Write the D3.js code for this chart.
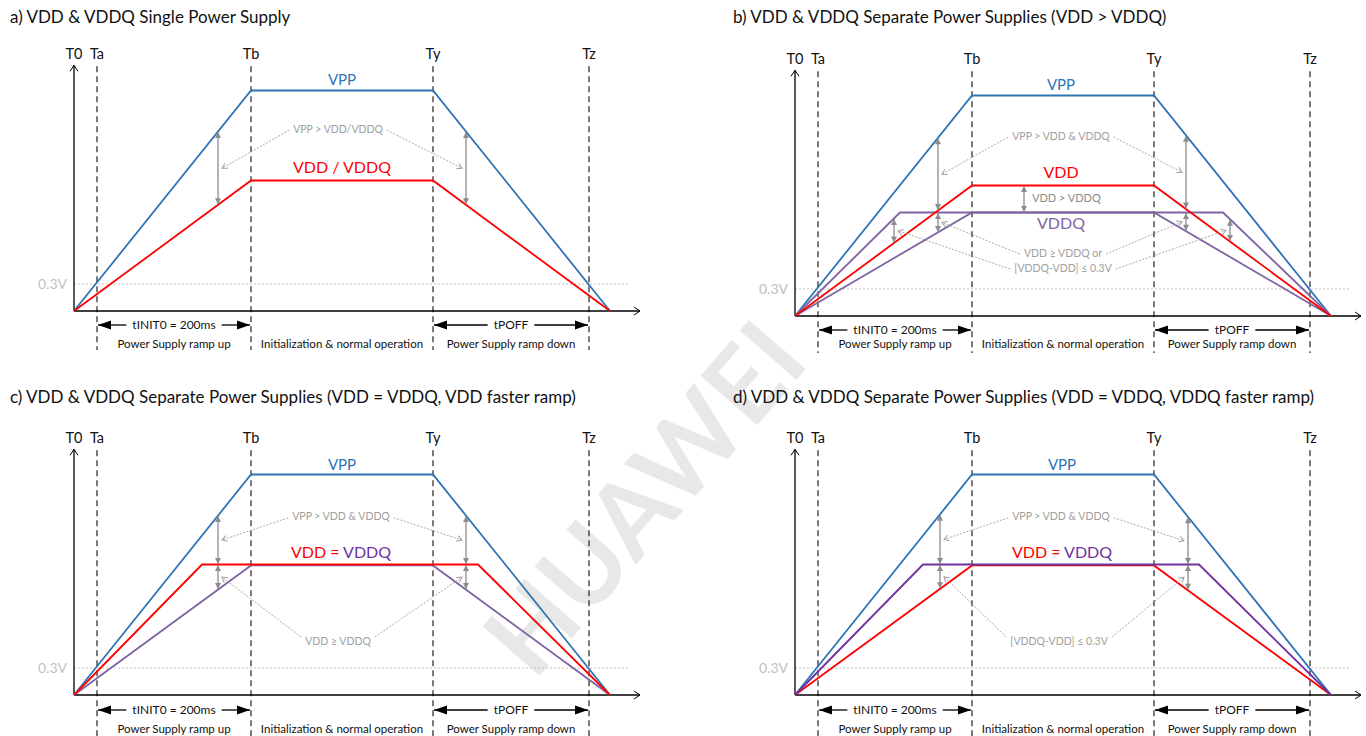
<!DOCTYPE html>
<html>
<head>
<meta charset="utf-8">
<script src="https://cdnjs.cloudflare.com/ajax/libs/d3/7.8.5/d3.min.js"></script>
<style>
  body { margin: 0; background: #fff; }
  svg { display: block; }
  text { font-family: Lato, "Open Sans", sans-serif; }
</style>
</head>
<body>
<div id="chart"></div>
<script>
// Time marks (schematic units, T0 = 0)
var markNames = ["T0", "Ta", "Tb", "Ty", "Tz"];
var markTimes = [0, 23, 177, 359, 515];
var axisEnd = 566;
var gridEnd = 554;
var vTop = 2.73;
var vLow = 0.3;

// Waveforms, [time, volts]
var vppWave   = [[0, 0], [177, 2.45], [359, 2.45], [536, 0]];
var aVdd      = [[0, 0], [177, 1.45], [359, 1.45], [536, 0]];
var bVdd      = [[0, 0], [177, 1.45], [359, 1.45], [536, 0]];
var bVddqFast = [[0, 0], [105, 1.15], [428, 1.15], [536, 0]];
var bVddqSlow = [[0, 0], [177, 1.15], [359, 1.15], [536, 0]];
var cVdd      = [[0, 0], [128, 1.45], [404, 1.45], [536, 0]];
var cVddq     = [[0, 0], [177, 1.44], [359, 1.44], [536, 0]];
var dVddq     = [[0, 0], [128, 1.45], [404, 1.45], [536, 0]];
var dVdd      = [[0, 0], [177, 1.44], [359, 1.44], [536, 0]];

// Gray "difference" arrows: [time, from wave, to wave]
var aArrows = [[144, "vpp", "vdd"], [392, "vpp", "vdd"]];
var bArrows = [[143, "vpp", "vdd"], [143, "fast", "slow"], [99, "fast", "vdd"],
               [391, "vpp", "vdd"], [391, "fast", "slow"], [435, "fast", "vdd"],
               [229, "vdd", "fast"]];
var cArrows = [[144, "vpp", "vdd"], [144, "vdd", "vddq"], [392, "vpp", "vdd"], [392, "vdd", "vddq"]];
var dArrows = [[145, "vpp", "vddq"], [145, "vddq", "vdd"], [393, "vpp", "vddq"], [393, "vddq", "vdd"]];

var titles = [
  "a) VDD & VDDQ Single Power Supply",
  "b) VDD & VDDQ Separate Power Supplies (VDD > VDDQ)",
  "c) VDD & VDDQ Separate Power Supplies (VDD = VDDQ, VDD faster ramp)",
  "d) VDD & VDDQ Separate Power Supplies (VDD = VDDQ, VDDQ faster ramp)"
];
var phaseNames = ["Power Supply ramp up", "Initialization & normal operation", "Power Supply ramp down"];

var blue = "#2e75b6", red = "#ff0000", lilac = "#8064a2", purple = "#7030a0",
    gray = "#8c8c8c", noteGray = "#a0a0a0";

var W = 1366, H = 736;
var svg = d3.select("#chart").append("svg").attr("width", W).attr("height", H);

var defs = svg.append("defs");
function marker(id, path, w, h, fill, stroke) {
  defs.append("marker").attr("id", id)
    .attr("markerUnits", "userSpaceOnUse")
    .attr("markerWidth", w + 2).attr("markerHeight", h + 2)
    .attr("viewBox", "-1 -1 " + (w + 2) + " " + (h + 2))
    .attr("refX", w).attr("refY", h / 2)
    .attr("orient", "auto-start-reverse")
    .append("path").attr("d", path)
    .attr("fill", fill).attr("stroke", stroke || "none").attr("stroke-width", 1);
}
marker("bigHead", "M0,0L13,4.5L0,9Z", 13, 9, "#000");
marker("grayHead", "M0,0L6,3L0,6Z", 6, 6, gray);
marker("openHead", "M0,0L6,4L0,8", 6, 8, "none", "#000");
marker("leaderHead", "M0,0L5,3L0,6", 5, 6, "none", noteGray);

// watermark
svg.append("text")
  .attr("transform", "translate(642,496) rotate(-49)")
  .attr("text-anchor", "middle").attr("dominant-baseline", "central")
  .attr("font-size", 104).attr("font-weight", "bold")
  .attr("fill", "#000").attr("fill-opacity", 0.09)
  .attr("font-family", "'Liberation Sans', Arial, sans-serif")
  .text("HUAWEI");

function panel(cfg) {
  svg.append("text").attr("x", cfg.tx).attr("y", cfg.ty)
    .attr("font-size", 17).attr("fill", "#111").text(cfg.title);

  var g = svg.append("g").attr("transform", "translate(" + cfg.ox + "," + cfg.oy + ")");
  var x = d3.scaleLinear().domain([0, axisEnd]).range([0, axisEnd]);
  var y = d3.scaleLinear().domain([0, vTop]).range([0, -vTop * 90]);

  function valueAt(wave, t) {
    for (var i = 1; i < wave.length; i++) {
      if (t <= wave[i][0]) {
        var a = wave[i - 1], b = wave[i];
        return a[1] + (b[1] - a[1]) * (t - a[0]) / (b[0] - a[0]);
      }
    }
    return 0;
  }

  // 0.3V grid
  g.append("line").attr("x1", 0).attr("x2", x(gridEnd))
    .attr("y1", y(vLow)).attr("y2", y(vLow))
    .attr("stroke", "#b0b0b0").attr("stroke-width", 0.8).attr("stroke-dasharray", "2,2");
  g.append("text").attr("x", -7).attr("y", y(vLow)).attr("dy", "0.35em")
    .attr("text-anchor", "end").attr("font-size", 14).attr("fill", "#bfbfbf").text("0.3V");

  // time marks
  g.selectAll(".mark").data(markTimes.slice(1)).enter().append("line")
    .attr("x1", d => x(d)).attr("x2", d => x(d))
    .attr("y1", y(vTop) + 1).attr("y2", cfg.dashBottom)
    .attr("stroke", "#333").attr("stroke-width", 1.3).attr("stroke-dasharray", "6,4");
  g.selectAll(".mlab").data(markNames).enter().append("text")
    .attr("x", (d, i) => x(markTimes[i])).attr("y", y(vTop) - 6)
    .attr("text-anchor", "middle").attr("font-size", 14.5).attr("fill", "#111").text(d => d);

  // axes
  g.append("line").attr("x1", 0).attr("x2", 0).attr("y1", 0).attr("y2", y(vTop))
    .attr("stroke", "#000").attr("stroke-width", 1.3).attr("marker-end", "url(#openHead)");
  g.append("line").attr("x1", 0).attr("x2", x(axisEnd)).attr("y1", 0).attr("y2", 0)
    .attr("stroke", "#000").attr("stroke-width", 1.3).attr("marker-end", "url(#openHead)");

  // waves
  var line = d3.line().x(d => x(d[0])).y(d => y(d[1]));
  cfg.waves.forEach(function(w) {
    g.append("path").attr("d", line(w.data)).attr("fill", "none")
      .attr("stroke", w.color).attr("stroke-width", 1.8);
  });
  var byKey = {};
  cfg.waves.forEach(function(w) { byKey[w.key] = w.data; });

  // difference arrows
  var mids = cfg.arrows.map(function(a) {
    var y1 = y(valueAt(byKey[a[1]], a[0])), y2 = y(valueAt(byKey[a[2]], a[0]));
    g.append("line").attr("x1", x(a[0])).attr("x2", x(a[0]))
      .attr("y1", y1 + 0.5).attr("y2", y2 - 0.5)
      .attr("stroke", gray).attr("stroke-width", 1.3)
      .attr("marker-start", "url(#grayHead)").attr("marker-end", "url(#grayHead)");
    return [x(a[0]), (y1 + y2) / 2];
  });

  // labels
  cfg.labels.forEach(function(l) {
    var t = g.append("text").attr("x", x(l.t)).attr("y", y(l.v)).attr("dy", "0.35em")
      .attr("text-anchor", l.anchor || "middle").attr("font-size", l.size || 15);
    l.parts.forEach(function(p) { t.append("tspan").attr("fill", p[1]).text(p[0]); });
  });

  // notes with dotted leaders
  cfg.notes.forEach(function(n) {
    n.lines.forEach(function(s, i) {
      var ty = y(n.v) + i * 15;
      var t = g.append("text").attr("x", x(n.t)).attr("y", ty).attr("dy", "0.35em")
        .attr("text-anchor", "middle").attr("font-size", 10.5).attr("fill", noteGray).text(s);
      var w = t.node().getComputedTextLength();
      [[n.left, -1], [n.right, 1]].forEach(function(side) {
        if (side[0] == null || side[0][i] == null) return;
        var m = mids[side[0][i]];
        var sx = x(n.t) + side[1] * (w / 2 + 4), sy = ty + (n.sdy || 1);
        var ex = m[0] + (sx > m[0] ? 4 : -4);
        g.append("line").attr("x1", sx).attr("y1", sy).attr("x2", ex).attr("y2", m[1])
          .attr("stroke", noteGray).attr("stroke-width", 0.9).attr("stroke-dasharray", "2,1.5")
          .attr("marker-end", "url(#leaderHead)");
      });
    });
  });

  // timing arrows under the axis
  function span(t0, t1, label) {
    var lab = g.append("text").attr("x", (x(t0) + x(t1)) / 2).attr("y", cfg.spanY).attr("dy", "0.35em")
      .attr("text-anchor", "middle").attr("font-size", 12).attr("fill", "#111").text(label);
    var w = lab.node().getComputedTextLength(), c = (x(t0) + x(t1)) / 2;
    g.append("line").attr("x1", c - w / 2 - 6).attr("x2", x(t0) + 1)
      .attr("y1", cfg.spanY).attr("y2", cfg.spanY).attr("stroke", "#000").attr("stroke-width", 1.3)
      .attr("marker-end", "url(#bigHead)");
    g.append("line").attr("x1", c + w / 2 + 6).attr("x2", x(t1) - 1)
      .attr("y1", cfg.spanY).attr("y2", cfg.spanY).attr("stroke", "#000").attr("stroke-width", 1.3)
      .attr("marker-end", "url(#bigHead)");
  }
  span(markTimes[1], markTimes[2], "tINIT0 = 200ms");
  span(markTimes[3], markTimes[4], "tPOFF");

  g.selectAll(".phase").data(phaseNames).enter().append("text")
    .attr("x", (d, i) => (x(markTimes[i + 1]) + x(markTimes[i + 2])) / 2)
    .attr("y", cfg.phaseY).attr("dy", "0.35em")
    .attr("text-anchor", "middle").attr("font-size", 11.5).attr("fill", "#111").text(d => d);
}

panel({
  title: titles[0], tx: 10, ty: 23, ox: 74, oy: 311, dashBottom: 39, spanY: 14, phaseY: 33,
  waves: [{key: "vpp", data: vppWave, color: blue}, {key: "vdd", data: aVdd, color: red}],
  arrows: aArrows,
  labels: [{t: 268, v: 2.57, parts: [["VPP", blue]]},
           {t: 268, v: 1.6, size: 16, parts: [["VDD / VDDQ", red]]}],
  notes: [{lines: ["VPP > VDD/VDDQ"], t: 264, v: 2.02, left: [0], right: [1]}]
});

panel({
  title: titles[1], tx: 733, ty: 23, ox: 795, oy: 316, dashBottom: 37, spanY: 14, phaseY: 28,
  waves: [{key: "vpp", data: vppWave, color: blue},
          {key: "slow", data: bVddqSlow, color: lilac},
          {key: "fast", data: bVddqFast, color: lilac},
          {key: "vdd", data: bVdd, color: red}],
  arrows: bArrows,
  labels: [{t: 266, v: 2.57, parts: [["VPP", blue]]},
           {t: 266, v: 1.6, size: 16, parts: [["VDD", red]]},
           {t: 266, v: 1.03, size: 16, parts: [["VDDQ", lilac]]},
           {t: 237, v: 1.31, size: 11, anchor: "start", parts: [["VDD > VDDQ", gray]]}],
  notes: [{lines: ["VPP > VDD & VDDQ"], t: 266, v: 2.0, left: [0], right: [3]},
          {lines: ["VDD \u2265 VDDQ or", "[VDDQ-VDD] \u2264 0.3V"], t: 268, v: 0.7, left: [1, 2], right: [4, 5]}]
});

panel({
  title: titles[2], tx: 10, ty: 403, ox: 74, oy: 695, dashBottom: 45, spanY: 15, phaseY: 34,
  waves: [{key: "vpp", data: vppWave, color: blue},
          {key: "vddq", data: cVddq, color: lilac},
          {key: "vdd", data: cVdd, color: red}],
  arrows: cArrows,
  labels: [{t: 268, v: 2.56, parts: [["VPP", blue]]},
           {t: 267, v: 1.59, size: 16, parts: [["VDD = ", red], ["VDDQ", purple]]}],
  notes: [{lines: ["VPP > VDD & VDDQ"], t: 267, v: 1.98, left: [0], right: [2]},
          {lines: ["VDD \u2265 VDDQ"], t: 264, v: 0.6, sdy: -4, left: [1], right: [3]}]
});

panel({
  title: titles[3], tx: 733, ty: 403, ox: 795, oy: 695, dashBottom: 45, spanY: 15, phaseY: 34,
  waves: [{key: "vpp", data: vppWave, color: blue},
          {key: "vdd", data: dVdd, color: red},
          {key: "vddq", data: dVddq, color: purple}],
  arrows: dArrows,
  labels: [{t: 267, v: 2.56, parts: [["VPP", blue]]},
           {t: 267, v: 1.59, size: 16, parts: [["VDD = ", red], ["VDDQ", purple]]}],
  notes: [{lines: ["VPP > VDD & VDDQ"], t: 266, v: 1.98, left: [0], right: [2]},
          {lines: ["[VDDQ-VDD] \u2264 0.3V"], t: 264, v: 0.6, sdy: -4, left: [1], right: [3]}]
});
</script>
</body>
</html>
